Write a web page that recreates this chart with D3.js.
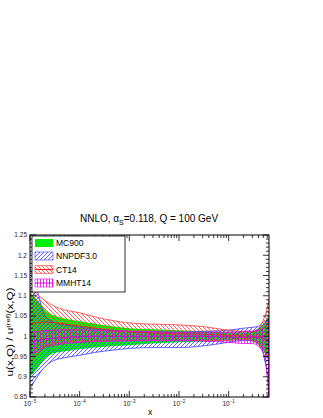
<!DOCTYPE html>
<html><head><meta charset="utf-8">
<script src="https://cdn.jsdelivr.net/npm/d3@7"></script>
<style>body{margin:0;background:#fff}svg{display:block;font-family:"Liberation Sans",Arial,sans-serif}</style>
</head><body><svg id="c" width="323" height="418"></svg>
<script>
const xs = [1e-5,1.5e-5,2e-5,3e-5,5e-5,1e-4,2e-4,5e-4,1e-3,3e-3,1e-2,3e-2,0.1,0.2,0.3,0.4,0.5,0.6,0.65];
const mcUp  = [1.11,1.085,1.065,1.052,1.044,1.037,1.031,1.024,1.02,1.017,1.015,1.013,1.01,1.01,1.012,1.02,1.03,1.045,1.055];
const mcLo  = [0.90,0.925,0.945,0.958,0.963,0.968,0.972,0.976,0.978,0.982,0.985,0.987,0.99,0.99,0.988,0.98,0.965,0.945,0.93];
const nnUp  = [1.17,1.10,1.05,1.035,1.028,1.022,1.018,1.014,1.012,1.011,1.01,1.012,1.015,1.02,1.022,1.025,1.035,1.04,1.045];
const nnLo  = [0.87,0.905,0.925,0.94,0.947,0.953,0.96,0.966,0.97,0.972,0.972,0.976,0.985,0.99,0.988,0.98,0.955,0.91,0.89];
const ctUp  = [1.12,1.10,1.088,1.075,1.065,1.058,1.048,1.038,1.033,1.03,1.028,1.024,1.015,1.012,1.012,1.02,1.04,1.07,1.09];
const ctLo  = [0.935,0.96,0.975,0.982,0.985,0.987,0.988,0.99,0.99,0.99,0.99,0.99,0.99,0.992,0.99,0.98,0.965,0.95,0.94];
const ctMid = [1.03,1.034,1.035,1.034,1.03,1.025,1.02,1.014,1.011,1.008,1.006,1.005,1.002,1.001,1.0,1.0,1.0,1.005,1.01];
const mmUp  = [1.01,1.012,1.014,1.015,1.016,1.016,1.015,1.013,1.012,1.011,1.01,1.01,1.01,1.012,1.013,1.015,1.02,1.03,1.04];
const mmLo  = [0.955,0.965,0.973,0.978,0.982,0.985,0.987,0.988,0.989,0.99,0.99,0.988,0.985,0.982,0.982,0.975,0.96,0.9,0.84];
const mmMid = [0.985,0.99,0.993,0.995,0.997,0.999,1.0,1.0,1.0,1.0,1.0,1.0,0.998,0.997,0.998,0.998,0.995,0.99,0.985];
const yTicks = [0.85,0.9,0.95,1,1.05,1.1,1.15,1.2,1.25];
const yTickLabels = ["0.85","0.9","0.95","1","1.05","1.1","1.15","1.2","1.25"];
const xDecades = [-5,-4,-3,-2,-1];
const legendNames = ["MC900","NNPDF3.0","CT14","MMHT14"];

const L=30,R=269,T=235,B=397;
const svg=d3.select("#c");
const x=d3.scaleLog().domain([1e-5,0.65]).range([L,R]);
const y=d3.scaleLinear().domain([0.85,1.25]).range([B,T]);

const defs=svg.append("defs");
defs.append("clipPath").attr("id","clip").append("rect").attr("x",L).attr("y",T).attr("width",R-L).attr("height",B-T);
function pat(id,col,d,w){
  const p=defs.append("pattern").attr("id",id).attr("patternUnits","userSpaceOnUse").attr("width",w).attr("height",w);
  p.append("path").attr("d",d).attr("stroke",col).attr("stroke-width",0.8).attr("fill","none");
}
pat("pBlue","#3a3aff","M-1,1L1,-1M0,4L4,0M3,5L5,3",4);
pat("pRed","#ff3a3a","M-1,3L1,5M0,0L4,4M3,-1L5,1",4);
pat("pMag","#e600e6","M1.5,0L1.5,3",3);

const g=svg.append("g").attr("clip-path","url(#clip)");
function band(up,lo,fill,edge){
  const a=d3.area().x((d,i)=>x(xs[i])).y0((d,i)=>y(lo[i])).y1(d=>y(d)).curve(d3.curveMonotoneX);
  g.append("path").attr("d",a(up)).attr("fill",fill);
  if(edge){
    const l=d3.line().x((d,i)=>x(xs[i])).y(d=>y(d)).curve(d3.curveMonotoneX);
    g.append("path").attr("d",l(up)).attr("fill","none").attr("stroke",edge).attr("stroke-width",0.8);
    g.append("path").attr("d",l(lo)).attr("fill","none").attr("stroke",edge).attr("stroke-width",0.8);
  }
}
function mid(v,col){
  const l=d3.line().x((d,i)=>x(xs[i])).y(d=>y(d)).curve(d3.curveMonotoneX);
  g.append("path").attr("d",l(v)).attr("fill","none").attr("stroke",col).attr("stroke-width",1);
}
band(mcUp,mcLo,"#00ee00",null);
band(nnUp,nnLo,"url(#pBlue)","#3a3aff");
band(ctUp,ctLo,"url(#pRed)","#ff3a3a");
mid(ctMid,"#ee2222");
band(mmUp,mmLo,"url(#pMag)","#e600e6");
mid(mmMid,"#d000d0");

// frame
svg.append("rect").attr("x",L).attr("y",T).attr("width",R-L).attr("height",B-T).attr("fill","none").attr("stroke","#000").attr("stroke-width",1);

// y ticks
const ax=svg.append("g").attr("stroke","#000").attr("stroke-width",0.8);
const yMinor=d3.range(0.85,1.2501,0.01);
yMinor.forEach(v=>{
  const major=yTicks.some(t=>Math.abs(t-v)<1e-6);
  const len=major?6:3;
  ax.append("line").attr("x1",L).attr("x2",L+len).attr("y1",y(v)).attr("y2",y(v));
  ax.append("line").attr("x1",R).attr("x2",R-len).attr("y1",y(v)).attr("y2",y(v));
});
yTicks.forEach((v,i)=>{
  svg.append("text").attr("x",L-3).attr("y",y(v)+2.3).attr("text-anchor","end").attr("font-size",6.5).attr("fill","#222").text(yTickLabels[i]);
});
// x ticks
xDecades.forEach(d=>{
  for(let m=1;m<10;m++){
    const v=m*Math.pow(10,d);
    if(v>0.65) break;
    const len=m===1?6:3;
    ax.append("line").attr("x1",x(v)).attr("x2",x(v)).attr("y1",B).attr("y2",B-len);
    ax.append("line").attr("x1",x(v)).attr("x2",x(v)).attr("y1",T).attr("y2",T+len);
  }
  const t=svg.append("text").attr("x",x(Math.pow(10,d))).attr("y",B+9).attr("text-anchor","middle").attr("font-size",6.5).attr("fill","#222");
  t.append("tspan").text("10");
  t.append("tspan").attr("dy",-3).attr("font-size",4.5).text("\u2212"+(-d));
});
svg.append("text").attr("x",150).attr("y",415).attr("text-anchor","middle").attr("font-size",8.5).text("x");
// y label
const yl=svg.append("text").attr("transform","translate(13,332) rotate(-90) scale(1.3,1)").attr("text-anchor","middle").attr("font-size",9);
yl.append("tspan").text("u(x,Q) / u");
yl.append("tspan").attr("dy",-3.5).attr("font-size",6).text("(ref)");
yl.append("tspan").attr("dy",3.5).text("(x,Q)");
// title
const tt=svg.append("text").attr("x",149).attr("y",222).attr("text-anchor","middle").attr("font-size",10);
tt.append("tspan").text("NNLO, \u03b1");
tt.append("tspan").attr("dy",2.5).attr("font-size",7).text("S");
tt.append("tspan").attr("dy",-2.5).text("=0.118, Q = 100 GeV");

// legend
const lg=svg.append("g");
lg.append("rect").attr("x",32).attr("y",236).attr("width",93).attr("height",56).attr("fill","#fff").attr("stroke","#000").attr("stroke-width",0.8);
const sw=[["#00ee00",null,null],["url(#pBlue)","#3a3aff",null],["url(#pRed)","#ff3a3a","#ee2222"],["url(#pMag)","#e600e6","#d000d0"]];
const ly=[243,256,269.5,283];
legendNames.forEach((n,i)=>{
  lg.append("rect").attr("x",35).attr("y",ly[i]-4).attr("width",18).attr("height",8).attr("fill",sw[i][0]).attr("stroke",sw[i][1]||"none").attr("stroke-width",0.6);
  if(sw[i][2]) lg.append("line").attr("x1",35).attr("x2",53).attr("y1",ly[i]).attr("y2",ly[i]).attr("stroke",sw[i][2]).attr("stroke-width",1);
  lg.append("text").attr("x",56).attr("y",ly[i]+3).attr("font-size",8.5).text(n);
});
</script></body></html>
